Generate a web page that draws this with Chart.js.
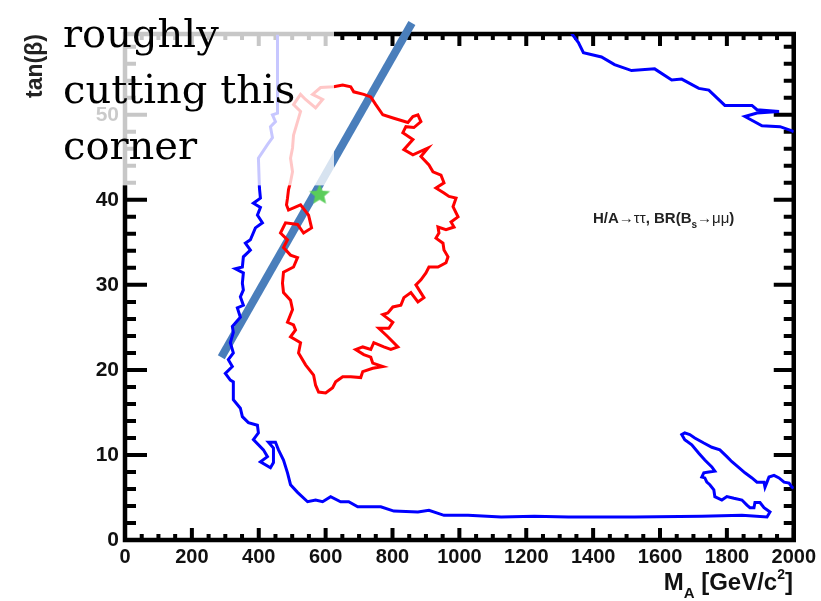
<!DOCTYPE html>
<html>
<head>
<meta charset="utf-8">
<script src="https://cdn.jsdelivr.net/npm/chart.js@4.4.1/dist/chart.umd.min.js"></script>
<style>
  html, body { margin: 0; padding: 0; background: #fff; }
  #wrap { width: 821px; height: 601px; position: relative; }
</style>
</head>
<body>
<div id="wrap"><canvas id="chart"></canvas></div>
<script>
// blue contour: down the left side, along the bottom, lobe near M_A ~ 1700-2000
const blueMainM = [456, 456, 441, 450, 435, 441, 426, 399, 402, 405, 384, 405, 396, 411, 390, 375, 360, 375, 354, 351,
  330, 354, 351, 354, 345, 354, 336, 345, 321, 324, 315, 324, 309, 321, 300, 315, 324, 324, 345, 351,
  369, 396, 399, 384, 414, 426, 405, 435, 444, 444, 429, 450, 459, 474, 486, 495, 516, 546, 570, 591,
  615, 645, 669, 696, 726, 765, 804, 876, 909, 954, 1026, 1125, 1224, 1326, 1524, 1725, 1845, 1920, 1929, 1911,
  1899, 1884, 1881, 1869, 1860, 1845, 1821, 1800, 1785, 1764, 1761, 1749, 1740, 1734, 1725, 1731, 1746, 1764, 1755, 1734,
  1716, 1695, 1674, 1665, 1674, 1689, 1704, 1731, 1755, 1779, 1800, 1815, 1836, 1854, 1875, 1890, 1911, 1914, 1920, 1926,
  1941, 1956, 1971, 1986, 1995, 2000];
const blueMainTan = [59.4, 50.2, 50.0, 49.2, 48.6, 47.3, 46.5, 44.9, 41.4, 40.2, 39.6, 39.1, 38.2, 37.3, 36.7, 35.3, 34.9, 34.1, 33.3, 32.1,
  31.9, 31.4, 30.2, 29.4, 28.6, 27.6, 27.3, 26.2, 25.1, 24.4, 23.2, 22.0, 21.2, 20.4, 19.6, 18.8, 18.6, 16.5, 15.5, 14.5,
  13.8, 13.5, 12.6, 11.8, 10.6, 9.8, 9.2, 8.5, 9.1, 10.8, 11.5, 11.5, 10.6, 9.4, 7.9, 6.5, 5.6, 4.5, 4.7, 4.5,
  5.1, 4.5, 4.5, 3.9, 3.9, 3.9, 3.4, 3.3, 3.5, 2.9, 2.9, 2.7, 2.8, 2.7, 2.7, 2.8, 2.9, 2.7, 3.3, 3.8,
  4.4, 4.4, 3.8, 3.8, 4.1, 4.7, 4.9, 5.1, 4.7, 5.1, 5.9, 6.5, 6.8, 7.3, 7.4, 7.9, 8.0, 8.1, 8.6, 9.4,
  10.2, 11.2, 11.8, 12.4, 12.6, 12.4, 12.0, 11.4, 10.9, 10.6, 9.8, 9.2, 8.5, 7.9, 7.3, 6.8, 6.8, 6.2, 6.8, 7.4,
  7.6, 7.3, 6.8, 6.7, 6.2, 6.1];

// blue contour in the upper right corner
const blueTopM = [1335, 1356, 1371, 1425, 1464, 1515, 1584, 1635, 1665, 1716, 1746, 1794, 1875, 1890, 1956, 1890, 1854, 1905, 1959, 1995, 2000];
const blueTopTan = [59.6, 58.5, 57.3, 56.8, 55.9, 55.2, 55.4, 54.1, 54.2, 53.1, 52.9, 51.1, 51.1, 50.6, 50.4, 50.2, 49.8, 48.7, 48.6, 48.1, 48.0];

// red closed contour
const redM = [624, 651, 675, 684, 714, 735, 750, 771, 804, 846, 861, 876, 885, 864, 840, 831, 861, 834, 861, 906,
  885, 909, 921, 945, 954, 930, 954, 969, 990, 981, 996, 975, 984, 960, 936, 939, 930, 951, 954, 966,
  960, 936, 909, 900, 885, 870, 894, 876, 855, 834, 825, 801, 786, 771, 801, 789, 759, 786, 816, 795,
  774, 744, 735, 711, 690, 714, 735, 741, 771, 741, 711, 705, 675, 651, 630, 621, 600, 579, 570, 564,
  540, 519, 525, 495, 510, 504, 486, 501, 495, 474, 471, 474, 504, 516, 495, 474, 486, 465, 480, 516,
  534, 558, 549, 525, 489, 483, 486, 489, 495, 501, 495, 501, 504, 516, 525, 504, 525, 540, 570, 591,
  561, 585, 624];
const redTan = [53.3, 53.5, 53.3, 52.7, 52.4, 52.1, 51.2, 50.0, 49.6, 49.1, 49.8, 50.0, 49.2, 48.5, 48.6, 47.9, 47.1, 45.9, 45.3, 46.1,
  45.1, 44.1, 43.3, 42.9, 42.0, 41.4, 40.8, 40.4, 40.2, 39.2, 38.0, 37.4, 36.8, 36.5, 36.8, 36.1, 35.5, 34.9, 34.1, 33.3,
  32.6, 32.1, 32.1, 31.4, 30.6, 30.0, 28.5, 28.0, 29.1, 28.5, 27.6, 27.4, 26.7, 26.5, 25.6, 24.9, 24.9, 23.9, 22.7, 22.4,
  22.7, 23.2, 22.4, 22.7, 22.4, 21.8, 21.5, 20.8, 20.4, 20.2, 19.8, 19.1, 19.2, 19.2, 18.6, 17.9, 17.3, 17.4, 18.2, 19.4,
  20.6, 22.0, 23.2, 23.9, 24.7, 25.3, 25.6, 27.1, 28.2, 29.1, 30.2, 31.5, 32.1, 33.2, 33.5, 34.4, 35.3, 36.1, 37.3, 37.1,
  36.1, 36.7, 38.2, 39.4, 38.8, 39.4, 40.2, 41.2, 42.1, 43.3, 44.9, 46.1, 47.6, 49.2, 50.4, 51.2, 52.4, 51.8, 50.8, 51.8,
  52.4, 53.2, 53.3];

// best fit point
const starM = [582];
const starTan = [40.6];

// hand drawn cut line
const cutM = [288, 858];
const cutTan = [21.5, 60.8];

const xTickValues = [0, 200, 400, 600, 800, 1000, 1200, 1400, 1600, 1800, 2000];
const yTickValues = [0, 10, 20, 30, 40, 50];
const minorStepM = 50;
const minorStepTan = 2;

const noteLines = ['roughly', 'cutting this', 'corner'];

const SANS = '"Liberation Sans", Arial, sans-serif';

function toPoints(xs, ys) {
    return xs.map((x, i) => ({ x: x, y: ys[i] }));
}

function makeStar(r, color) {
    const c = document.createElement('canvas');
    c.width = c.height = 2 * r + 2;
    const g = c.getContext('2d');
    g.fillStyle = color;
    g.beginPath();
    for (let i = 0; i < 10; i++) {
        const a = -Math.PI / 2 + i * Math.PI / 5;
        const rr = i % 2 === 0 ? r : r * 0.45;
        g.lineTo(r + 1 + rr * Math.cos(a), r + 1 + rr * Math.sin(a));
    }
    g.closePath();
    g.fill();
    return c;
}

// draws text pieces one after the other (for sub/superscripts)
function drawPieces(ctx, pieces, x, y, align) {
    let w = 0;
    pieces.forEach(p => { ctx.font = p.font; w += ctx.measureText(p.t).width; });
    let cx = align === 'right' ? x - w : x;
    ctx.textAlign = 'left';
    ctx.textBaseline = 'alphabetic';
    pieces.forEach(p => {
        ctx.font = p.font;
        ctx.fillText(p.t, cx, y + (p.dy || 0));
        cx += ctx.measureText(p.t).width;
    });
}

const framePlugin = {
    id: 'frame',
    beforeDatasetsDraw(chart) {
        const ctx = chart.ctx;
        const a = chart.chartArea;
        const xs = chart.scales.x, ys = chart.scales.y;
        ctx.save();
        ctx.strokeStyle = '#000';
        ctx.lineWidth = 4;
        ctx.beginPath();
        for (let m = xs.min; m <= xs.max; m += minorStepM) {
            const px = xs.getPixelForValue(m);
            const len = m % 200 === 0 ? 12 : 6;
            ctx.moveTo(px, a.bottom); ctx.lineTo(px, a.bottom - len);
            ctx.moveTo(px, a.top); ctx.lineTo(px, a.top + len);
        }
        for (let t = ys.min; t <= ys.max; t += minorStepTan) {
            const py = ys.getPixelForValue(t);
            const major = t % 10 === 0;
            ctx.moveTo(a.left, py); ctx.lineTo(a.left + (major ? 22 : 11), py);
            ctx.moveTo(a.right, py); ctx.lineTo(a.right - (major ? 20 : 10), py);
        }
        ctx.stroke();
        ctx.lineWidth = 4.5;
        ctx.strokeRect(a.left, a.top, a.right - a.left, a.bottom - a.top);
        ctx.restore();
    },
    afterDatasetsDraw(chart) {
        const ctx = chart.ctx;
        const xs = chart.scales.x, ys = chart.scales.y;
        ctx.save();
        // washed out corner
        const fx1 = xs.getPixelForValue(625);
        const fy1 = ys.getPixelForValue(41.7);
        ctx.fillStyle = 'rgba(255,255,255,0.78)';
        ctx.fillRect(50, 0, fx1 - 50, fy1);

        ctx.fillStyle = '#000';
        ctx.font = '40px "DejaVu Serif", serif';
        ctx.textAlign = 'left';
        ctx.textBaseline = 'alphabetic';
        noteLines.forEach((line, i) => ctx.fillText(line, 63, 47 + i * 56));

        // channel label
        ctx.fillStyle = '#222';
        drawPieces(ctx, [
            { t: 'H/A', font: 'bold 15px ' + SANS },
            { t: '\u2192\u03c4\u03c4', font: '15px ' + SANS },
            { t: ', BR(B', font: 'bold 15px ' + SANS },
            { t: 's', font: 'bold 10px ' + SANS, dy: 5 },
            { t: '\u2192\u03bc\u03bc', font: '15px ' + SANS },
            { t: ')', font: 'bold 15px ' + SANS }
        ], 593, 223, 'left');
        ctx.restore();
    },
    afterDraw(chart) {
        const ctx = chart.ctx;
        ctx.save();
        ctx.fillStyle = '#111';
        drawPieces(ctx, [
            { t: 'M', font: 'bold 24px ' + SANS },
            { t: 'A', font: 'bold 15px ' + SANS, dy: 8 },
            { t: ' [GeV/c', font: 'bold 24px ' + SANS },
            { t: '2', font: 'bold 14px ' + SANS, dy: -11 },
            { t: ']', font: 'bold 24px ' + SANS }
        ], 793, 590, 'right');

        ctx.translate(42, 66);
        ctx.rotate(-Math.PI / 2);
        ctx.font = 'bold 23px ' + SANS;
        ctx.textAlign = 'center';
        ctx.textBaseline = 'alphabetic';
        ctx.fillStyle = '#222';
        ctx.fillText('tan(\u03b2)', 0, 0);
        ctx.restore();
    }
};

const ctx = document.getElementById('chart').getContext('2d');

new Chart(ctx, {
    type: 'scatter',
    data: {
        datasets: [
            {
                data: toPoints(blueMainM, blueMainTan),
                showLine: true, borderColor: '#0000ff', borderWidth: 3, pointRadius: 0, tension: 0
            },
            {
                data: toPoints(blueTopM, blueTopTan),
                showLine: true, borderColor: '#0000ff', borderWidth: 3, pointRadius: 0, tension: 0
            },
            {
                data: toPoints(redM, redTan),
                showLine: true, borderColor: '#ff0000', borderWidth: 3, pointRadius: 0, tension: 0
            },
            {
                data: toPoints(starM, starTan),
                showLine: false, pointStyle: makeStar(11, 'rgb(90,205,90)'), pointRadius: 11
            },
            {
                data: toPoints(cutM, cutTan),
                showLine: true, borderColor: '#4A7EBB', borderWidth: 8, pointRadius: 0,
                borderCapStyle: 'butt', clip: false
            }
        ]
    },
    options: {
        responsive: true,
        maintainAspectRatio: false,
        devicePixelRatio: 1,
        animation: false,
        events: [],
        layout: { padding: { top: 34, right: 27, bottom: 0, left: 0 } },
        plugins: {
            legend: { display: false },
            tooltip: { enabled: false }
        },
        scales: {
            x: {
                type: 'linear',
                min: 0,
                max: 2000,
                afterBuildTicks: s => { s.ticks = xTickValues.map(v => ({ value: v })); },
                afterFit: s => { s.height = 61; },
                grid: { display: false, drawTicks: false },
                border: { display: false },
                ticks: {
                    callback: v => String(v),
                    font: { family: SANS, size: 20, weight: 'bold' },
                    color: '#111',
                    padding: 5,
                    maxRotation: 0,
                    autoSkip: false
                }
            },
            y: {
                type: 'linear',
                min: 0,
                max: 59.5,
                afterBuildTicks: s => { s.ticks = yTickValues.map(v => ({ value: v })); },
                afterFit: s => { s.width = 125; },
                grid: { display: false, drawTicks: false },
                border: { display: false },
                ticks: {
                    callback: v => String(v),
                    font: { family: SANS, size: 21, weight: 'bold' },
                    color: '#111',
                    padding: 6,
                    autoSkip: false
                }
            }
        }
    },
    plugins: [framePlugin]
});
</script>
</body>
</html>
